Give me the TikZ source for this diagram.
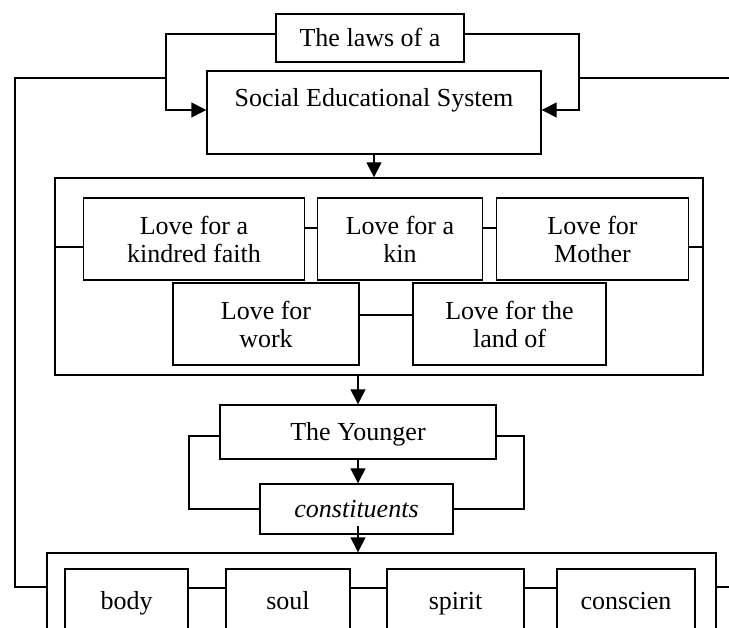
\documentclass[tikz,border=0pt]{standalone}
\usepackage{fontspec}
\setmainfont{Liberation Serif}
\usetikzlibrary{arrows.meta,calc}
\begin{document}
\begin{tikzpicture}[x=1pt,y=-1pt,
  box/.style={draw,line width=1.4pt,inner sep=0pt,align=center,font=\fontsize{26}{28}\selectfont},
  onebox/.style={box,text height=22pt,text depth=4pt},
  ln/.style={line width=1.4pt},
  arr/.style={ln,-{Triangle[length=15pt,width=15pt]}}]
\useasboundingbox (0,0) rectangle (729,628);
\clip (0,0) rectangle (729,628);
% top
\node[onebox,minimum width=188,minimum height=48] (laws) at (370,38) {The laws of a};
\node[box,minimum width=334,minimum height=83] (ses) at (374,112.5) {};
\node[font=\fontsize{26}{28}\selectfont] (sestext) at (374,100) {Social Educational System};
% love container
\node[box,minimum width=648,minimum height=197] (lovec) at (379,276.5) {};
\node[box,minimum width=221,minimum height=82] (l1) at (194,239) {Love for a\\kindred faith};
\node[box,minimum width=165,minimum height=82] (l2) at (400,239) {Love for a\\kin};
\node[box,minimum width=192,minimum height=82] (l3) at (592.5,239) {Love for\\Mother};
\node[box,minimum width=186,minimum height=82] (l4) at (266,324) {Love for\\work};
\node[box,minimum width=193,minimum height=82] (l5) at (509.5,324) {Love for the\\land of};
% younger
\node[onebox,minimum width=276,minimum height=54] (young) at (358,432) {The Younger};
\node[onebox,minimum width=193,minimum height=50] (cons) at (356.5,509) {\itshape constituents};
% bottom container
\node[box,minimum width=669,minimum height=107] (bc) at (381.5,606.5) {};
\node[onebox,minimum width=123,minimum height=62] (body) at (126.5,600) {body};
\node[onebox,minimum width=124,minimum height=62] (soul) at (288,600) {soul};
\node[onebox,minimum width=137,minimum height=62] (spirit) at (455.5,600) {spirit};
\node[onebox,minimum width=138,minimum height=62] (consc) at (626,600) {conscien};
% coordinates
\coordinate (lk) at (166,110);
\coordinate (rk) at (579,110);
\coordinate (olt) at (166,78);
\coordinate (oll) at (15,78);
\coordinate (olb) at (15,587);
\coordinate (ort) at (579,78);
\coordinate (ore) at (729,78);
\coordinate (brr) at (729,587);
\coordinate (yl) at (189,436);
\coordinate (yr) at (524,436);
\coordinate (cs) at (358,526);
% top connectors
\draw[arr] ([yshift=4pt]laws.west) -| (lk) -- (lk -| ses.west);
\draw[arr] ([yshift=4pt]laws.east) -| (rk) -- (rk -| ses.east);
\draw[ln] (olt) -- (oll) -- (olb) -- (olb -| bc.west);
\draw[ln] (ort) -- (ore);
\draw[ln] (brr -| bc.east) -- (brr);
\draw[arr] (ses.south) -- (ses.south |- lovec.north);
% love connectors
\draw[ln] ([yshift=-8pt]lovec.west |- l1.west) -- ([yshift=-8pt]l1.west);
\draw[ln] ([yshift=11pt]l1.east) -- ([yshift=11pt]l2.west);
\draw[ln] ([yshift=11pt]l2.east) -- ([yshift=11pt]l3.west);
\draw[ln] ([yshift=-8pt]l3.east) -- ([yshift=-8pt]lovec.east |- l3.east);
\draw[ln] ([yshift=9pt]l4.east) -- ([yshift=9pt]l5.west);
\draw[arr] (young.north |- lovec.south) -- (young.north);
% younger
\draw[arr] (young.south) -- (young.south |- cons.north);
\draw[ln] (yl -| young.west) -- (yl) |- (cons.west);
\draw[ln] (yr -| young.east) -- (yr) |- (cons.east);
\draw[arr] (cs) -- (cs |- bc.north);
% bottom connectors
\draw[ln] ([yshift=12pt]body.east) -- ([yshift=12pt]soul.west);
\draw[ln] ([yshift=12pt]soul.east) -- ([yshift=12pt]spirit.west);
\draw[ln] ([yshift=12pt]spirit.east) -- ([yshift=12pt]consc.west);
\end{tikzpicture}
\end{document}
